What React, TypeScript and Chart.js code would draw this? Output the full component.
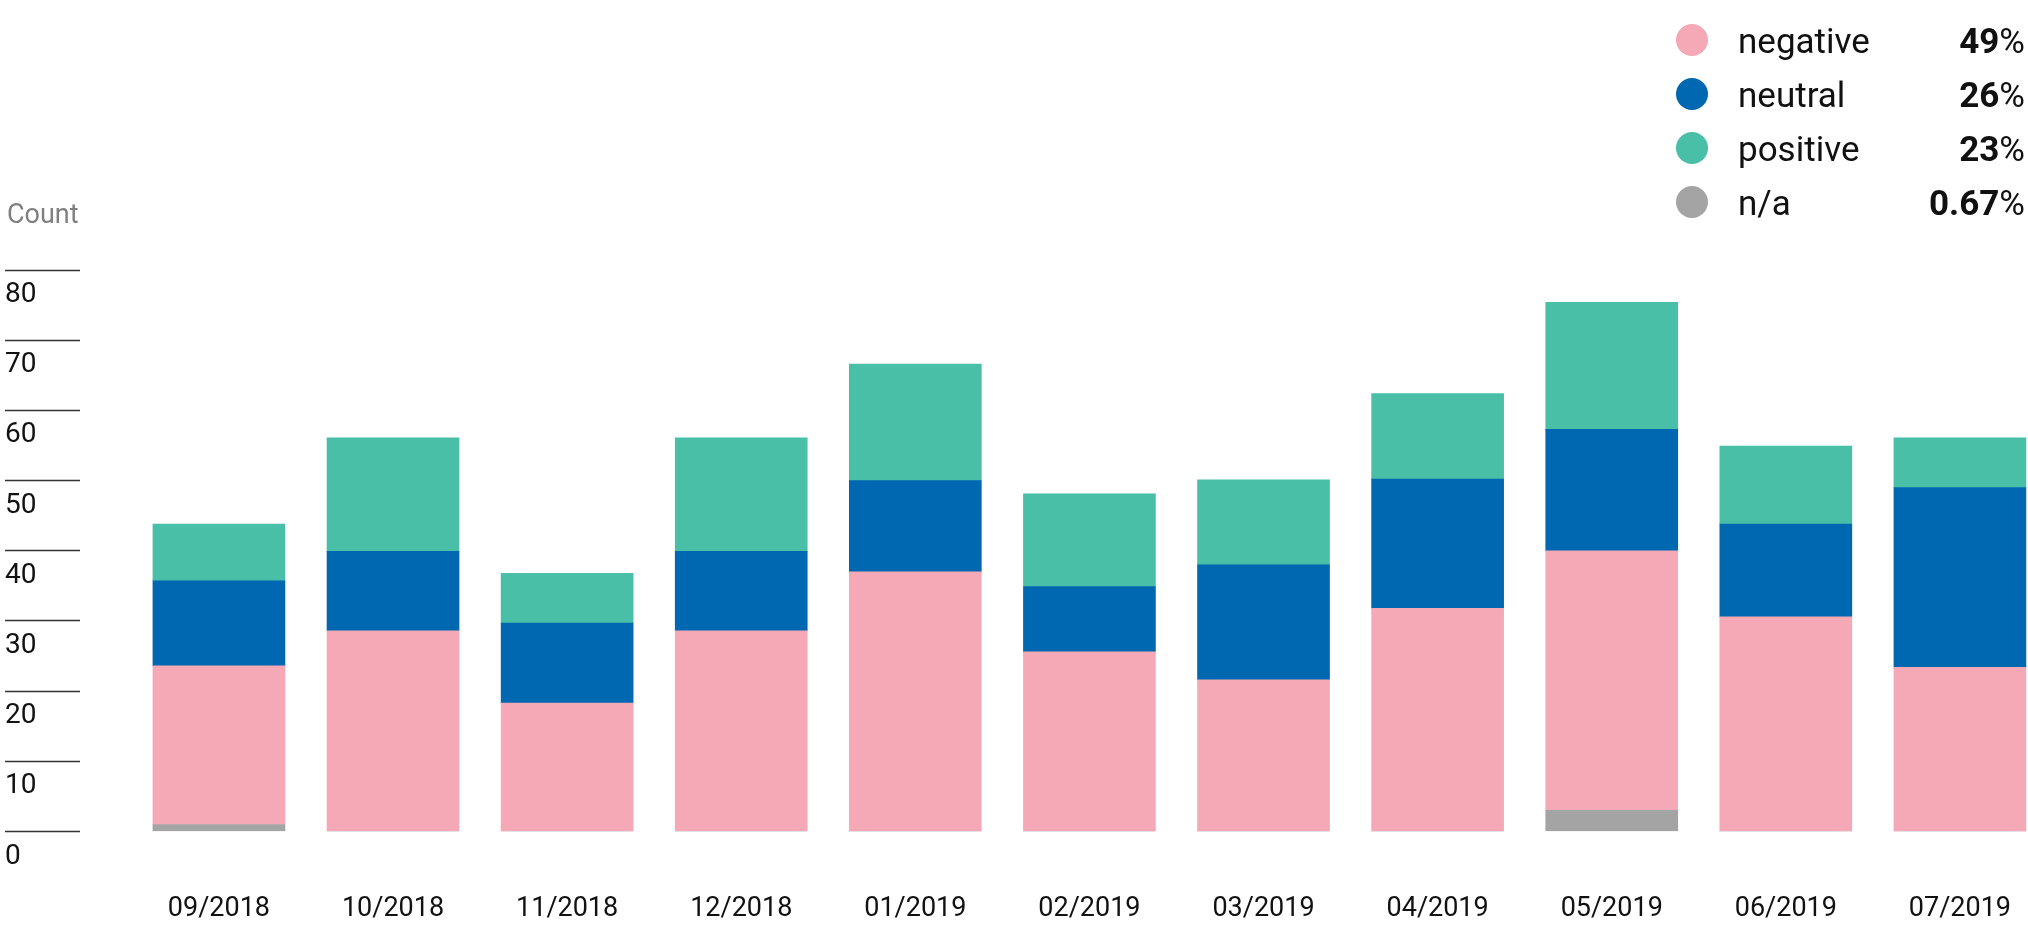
import React, { useEffect, useRef } from 'react';
import { Chart, registerables } from 'chart.js';

Chart.register(...registerables);

const categories = [
  '09/2018', '10/2018', '11/2018', '12/2018', '01/2019', '02/2019',
  '03/2019', '04/2019', '05/2019', '06/2019', '07/2019',
];
const naValues = [1.0, 0, 0, 0, 0, 0, 0, 0, 3.0, 0, 0];
const negativeValues = [22.6, 28.6, 18.3, 28.6, 37.0, 25.6, 21.6, 31.8, 37.0, 30.6, 23.4];
const neutralValues = [12.1, 11.3, 11.4, 11.3, 13.0, 9.3, 16.4, 18.4, 17.3, 13.2, 25.6];
const positiveValues = [8.1, 16.2, 7.1, 16.2, 16.6, 13.2, 12.1, 12.2, 18.1, 11.1, 7.1];
const yTicks = [0, 10, 20, 30, 40, 50, 60, 70, 80];

const legendLabels = ['negative', 'neutral', 'positive', 'n/a'];
const legendShares = ['49', '26', '23', '0.67'];

const PINK = '#F5A8B5';
const BLUE = '#0067B1';
const TEAL = '#49BFA8';
const GRAY = '#A4A4A4';
const legendColors = [PINK, BLUE, TEAL, GRAY];

const FONT = 'Roboto, "Noto Sans", sans-serif';

function toPoints(values: number[]) {
  return values.map((y, x) => ({ x, y }));
}

function SentimentChart() {
  const canvasRef = useRef<HTMLCanvasElement>(null);

  useEffect(() => {
    if (!canvasRef.current) return;

    const chart = new Chart(canvasRef.current, {
      type: 'bar',
      data: {
        datasets: [
          { label: 'n/a', data: toPoints(naValues), backgroundColor: GRAY },
          { label: 'negative', data: toPoints(negativeValues), backgroundColor: PINK },
          { label: 'neutral', data: toPoints(neutralValues), backgroundColor: BLUE },
          { label: 'positive', data: toPoints(positiveValues), backgroundColor: TEAL },
        ],
      },
      options: {
        animation: false,
        responsive: true,
        maintainAspectRatio: false,
        layout: { padding: { left: 5, top: 270, right: 0, bottom: 0 } },
        datasets: { bar: { barThickness: 132 } },
        plugins: {
          legend: { display: false },
          tooltip: { enabled: false },
        },
        scales: {
          x: {
            type: 'linear',
            stacked: true,
            offset: false,
            min: -0.798,
            max: 10.391,
            afterBuildTicks: (axis: any) => {
              axis.ticks = categories.map((_, i) => ({ value: i }));
            },
            afterFit: (axis: any) => {
              axis.height = 106.5;
            },
            grid: {
              display: true,
              offset: false,
              drawOnChartArea: false,
              drawTicks: true,
              tickLength: 62,
              tickColor: 'rgba(0,0,0,0)',
            },
            border: { display: false },
            ticks: {
              padding: 0,
              autoSkip: false,
              maxRotation: 0,
              color: '#111',
              font: { family: FONT, size: 27 },
              callback: (value: any) => categories[Number(value)] ?? '',
            },
          },
          y: {
            stacked: true,
            min: 0,
            max: 80,
            afterBuildTicks: (axis: any) => {
              axis.ticks = yTicks.map((v) => ({ value: v }));
            },
            afterFit: (axis: any) => {
              axis.width = 75;
            },
            grid: {
              drawOnChartArea: false,
              drawTicks: true,
              tickLength: 75,
              tickColor: '#333',
              tickWidth: 1.3,
            },
            border: { display: false },
            ticks: {
              crossAlign: 'far',
              labelOffset: 25,
              padding: 0,
              color: '#111',
              font: { family: FONT, size: 28 },
            },
          },
        },
      },
    });

    return () => {
      chart.destroy();
    };
  }, []);

  return <canvas ref={canvasRef} />;
}

export default function App() {
  return (
    <div
      style={{
        position: 'absolute',
        left: 0,
        top: 0,
        width: 2028,
        height: 938,
        background: '#fff',
        fontFamily: FONT,
        overflow: 'hidden',
      }}
    >
      <div style={{ position: 'absolute', left: 0, top: 0, width: 2028, height: 938 }}>
        <SentimentChart />
      </div>

      <div
        style={{
          position: 'absolute',
          left: 7,
          top: 201,
          fontSize: 27,
          lineHeight: '27px',
          color: '#808080',
        }}
      >
        Count
      </div>

      {legendLabels.map((label, i) => (
        <div
          key={label}
          style={{ position: 'absolute', left: 1600, top: 24 + i * 54, width: 425, height: 35 }}
        >
          <div
            style={{
              position: 'absolute',
              left: 76,
              top: 0,
              width: 32,
              height: 32,
              borderRadius: '50%',
              background: legendColors[i],
            }}
          />
          <div
            style={{
              position: 'absolute',
              left: 138,
              top: 0,
              fontSize: 35,
              lineHeight: '35px',
              color: '#111',
            }}
          >
            {label}
          </div>
          <div
            style={{
              position: 'absolute',
              right: 0,
              top: 0,
              fontSize: 35,
              lineHeight: '35px',
              color: '#111',
              whiteSpace: 'nowrap',
            }}
          >
            <span style={{ fontWeight: 700 }}>{legendShares[i]}</span>%
          </div>
        </div>
      ))}
    </div>
  );
}
